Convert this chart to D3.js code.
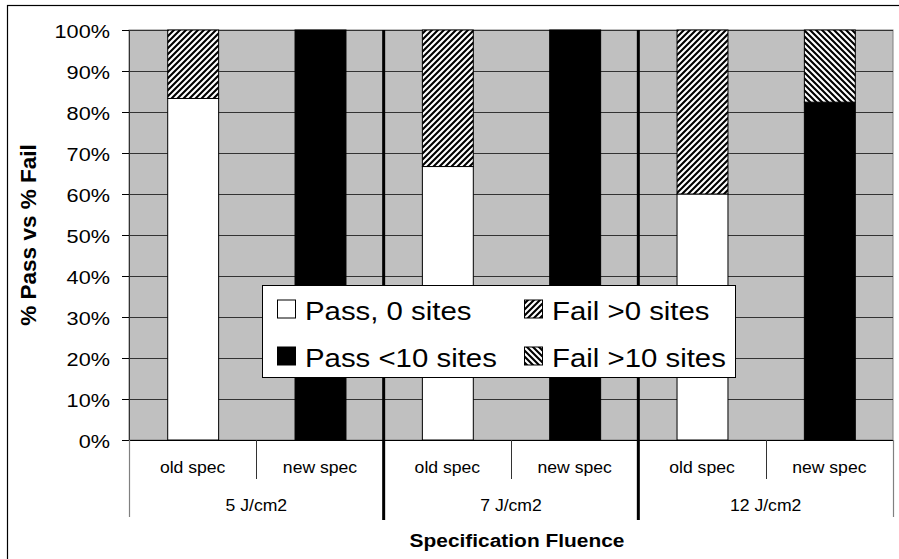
<!DOCTYPE html>
<html>
<head>
<meta charset="utf-8">
<script src="https://cdn.jsdelivr.net/npm/d3@7"></script>
<style>
  html, body { margin: 0; padding: 0; background: #fff; }
  svg { display: block; font-family: "Liberation Sans", Arial, sans-serif; }
</style>
</head>
<body>
<svg id="chart" width="899" height="559"></svg>
<script>
// Fluence groups and the two specs tested inside each
const groups = ["5 J/cm2", "7 J/cm2", "12 J/cm2"];
const specs = ["old spec", "new spec"];

// Series, in stacking order (bottom to top)
const seriesNames = ["Pass, 0 sites", "Pass <10 sites", "Fail >0 sites", "Fail >10 sites"];

// Percent of parts per bar (bars: 5 old, 5 new, 7 old, 7 new, 12 old, 12 new)
const pass0    = [83.3, 0, 66.7, 0, 60.0, 0];
const passLt10 = [0, 100, 0, 100, 0, 82.4];
const failGt0  = [16.7, 0, 33.3, 0, 40.0, 0];
const failGt10 = [0, 0, 0, 0, 0, 17.6];

const yTicks = [0, 10, 20, 30, 40, 50, 60, 70, 80, 90, 100];

const svg = d3.select("#chart");
const plot = { left: 129, right: 893, top: 30, bottom: 440 };
const SX = 1.13; // horizontal text stretch used throughout this chart

// bar records
const bars = [];
groups.forEach((g, gi) => specs.forEach((s, si) => {
  const i = gi * specs.length + si;
  bars.push({ key: g + "|" + s, group: g, spec: s,
    "Pass, 0 sites": pass0[i], "Pass <10 sites": passLt10[i],
    "Fail >0 sites": failGt0[i], "Fail >10 sites": failGt10[i] });
}));

const x = d3.scaleBand().domain(bars.map(d => d.key))
  .range([plot.left, plot.right]).paddingInner(0.6).paddingOuter(0.3);
const step = x.step();
const y = d3.scaleLinear().domain([0, 100]).range([plot.bottom, plot.top]);

// helper: horizontally stretched text
function stext(parent, tx, ty, str, opts) {
  const g = parent.append("g").attr("transform", `translate(${tx},${ty}) scale(${opts.sx || SX},1)`);
  return g.append("text").text(str)
    .attr("text-anchor", opts.anchor || "start")
    .attr("font-size", opts.size)
    .attr("font-weight", opts.weight || "normal")
    .attr("fill", "#000");
}

// hatch patterns
const defs = svg.append("defs");
function hatch(id, dir) {
  const p = defs.append("pattern").attr("id", id)
    .attr("patternUnits", "userSpaceOnUse").attr("width", 6).attr("height", 6);
  p.append("rect").attr("width", 6).attr("height", 6).attr("fill", "#fff");
  const d = dir > 0
    ? "M0,6 L6,0 M-1.5,1.5 L1.5,-1.5 M4.5,7.5 L7.5,4.5"
    : "M0,0 L6,6 M-1.5,4.5 L1.5,7.5 M4.5,-1.5 L7.5,1.5";
  p.append("path").attr("d", d).attr("stroke", "#000").attr("stroke-width", 2.1);
}
hatch("hatchUp", 1);
hatch("hatchDown", -1);

const fills = {
  "Pass, 0 sites": "#ffffff",
  "Pass <10 sites": "#000000",
  "Fail >0 sites": "url(#hatchUp)",
  "Fail >10 sites": "url(#hatchDown)"
};

// outer frame
svg.append("rect").attr("x", 7.5).attr("y", 5.5).attr("width", 1000).attr("height", 1000)
  .attr("fill", "none").attr("stroke", "#000").attr("stroke-width", 1.2);

// plot background
svg.append("rect").attr("x", plot.left).attr("y", plot.top)
  .attr("width", plot.right - plot.left).attr("height", plot.bottom - plot.top)
  .attr("fill", "#c0c0c0").attr("stroke", "#808080").attr("stroke-width", 1);

// horizontal gridlines
svg.append("g").selectAll("line").data(yTicks.filter(t => t > 0)).join("line")
  .attr("x1", plot.left).attr("x2", plot.right)
  .attr("y1", d => Math.round(y(d)) + 0.5).attr("y2", d => Math.round(y(d)) + 0.5)
  .attr("stroke", "#333").attr("stroke-width", 1);

// stacked bars
const stack = d3.stack().keys(seriesNames)(bars);
svg.append("g").selectAll("g").data(stack).join("g")
  .attr("fill", d => fills[d.key])
  .selectAll("rect").data(d => d.filter(s => s[1] - s[0] > 0)).join("rect")
  .attr("x", d => x(d.data.key) + 0.5)
  .attr("width", x.bandwidth())
  .attr("y", d => y(d[1]))
  .attr("height", d => y(d[0]) - y(d[1]))
  .attr("stroke", "#000").attr("stroke-width", 1);

// y axis
const yAxis = svg.append("g");
yAxis.append("line").attr("x1", plot.left + 0.5).attr("x2", plot.left + 0.5)
  .attr("y1", plot.top).attr("y2", plot.bottom).attr("stroke", "#333");
yTicks.forEach(t => {
  const yy = Math.round(y(t)) + 0.5;
  yAxis.append("line").attr("x1", plot.left - 7).attr("x2", plot.left)
    .attr("y1", yy).attr("y2", yy).attr("stroke", "#000");
  stext(yAxis, 110, y(t) + 7.5, t + "%", { size: 19.2, anchor: "end" });
});

// x axis baseline
svg.append("line").attr("x1", plot.left).attr("x2", plot.right)
  .attr("y1", plot.bottom + 0.5).attr("y2", plot.bottom + 0.5).attr("stroke", "#000");

// outer edges of the category axis table
[plot.left + 0.5, plot.right + 0.5].forEach(xx => {
  svg.append("line").attr("x1", xx).attr("x2", xx)
    .attr("y1", plot.bottom).attr("y2", 517).attr("stroke", "#808080").attr("stroke-width", 1.2);
});

// spec dividers inside each group
groups.forEach(g => {
  const xm = Math.round(x(g + "|" + specs[1]) - (step - x.bandwidth()) / 2) + 0.5;
  svg.append("line").attr("x1", xm).attr("x2", xm)
    .attr("y1", plot.bottom).attr("y2", 479).attr("stroke", "#333").attr("stroke-width", 1);
});

// spec labels
bars.forEach(b => {
  stext(svg, x(b.key) + x.bandwidth() / 2, 473, b.spec, { size: 16, anchor: "middle", sx: 1.1 });
});

// group labels
groups.forEach(g => {
  const c = (x(g + "|" + specs[0]) + x(g + "|" + specs[1]) + x.bandwidth()) / 2;
  stext(svg, c, 510.5, g, { size: 16, anchor: "middle", sx: 1.1 });
});

// thick separators between fluence groups
groups.slice(1).forEach(g => {
  const xs = x(g + "|" + specs[0]) - (step - x.bandwidth()) / 2;
  svg.append("line").attr("x1", xs).attr("x2", xs)
    .attr("y1", plot.top).attr("y2", 520).attr("stroke", "#000").attr("stroke-width", 3);
});

// axis titles
stext(svg, 517, 546.5, "Specification Fluence", { size: 19, anchor: "middle", weight: "bold", sx: 1.1 });
svg.append("text")
  .attr("transform", `translate(36,235) rotate(-90)`)
  .attr("text-anchor", "middle").attr("font-size", 22.5).attr("font-weight", "bold")
  .text("% Pass vs % Fail");

// legend
const lg = svg.append("g");
lg.append("rect").attr("x", 262.5).attr("y", 285.5).attr("width", 473).attr("height", 92)
  .attr("fill", "#fff").attr("stroke", "#000").attr("stroke-width", 1);
const legendItems = [
  { name: seriesNames[0], col: 0, row: 0 },
  { name: seriesNames[2], col: 1, row: 0 },
  { name: seriesNames[1], col: 0, row: 1 },
  { name: seriesNames[3], col: 1, row: 1 }
];
const colX = [277, 524];
const rowY = [299.5, 346.5];
legendItems.forEach(it => {
  lg.append("rect").attr("x", colX[it.col] + 0.5).attr("y", rowY[it.row] + 0.5)
    .attr("width", 18).attr("height", 18)
    .attr("fill", fills[it.name]).attr("stroke", "#000").attr("stroke-width", 1);
  stext(lg, colX[it.col] + 28, rowY[it.row] + 20.5, it.name, { size: 26, sx: 1.13 });
});
</script>
</body>
</html>
